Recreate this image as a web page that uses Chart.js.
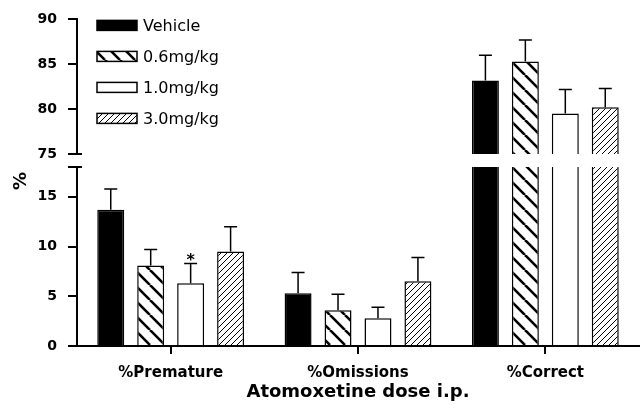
<!DOCTYPE html>
<html>
<head>
<meta charset="utf-8">
<script src="https://cdn.jsdelivr.net/npm/chart.js@4/dist/chart.umd.min.js"></script>
<style>
  html, body { margin: 0; padding: 0; background: #fff; }
  #wrap { position: relative; width: 640px; height: 412px; }
  #wrap canvas { position: absolute; left: 0; top: 0; }
</style>
</head>
<body>
<div id="wrap">
  <canvas id="lower" width="640" height="412"></canvas>
  <canvas id="upper" width="640" height="412"></canvas>
</div>
<script>
const categories = ['%Premature', '%Omissions', '%Correct'];
const doseLabels = ['Vehicle', '0.6mg/kg', '1.0mg/kg', '3.0mg/kg'];

const vehicle = [13.7, 5.3, 83.2];
const vehicleSem = [2.1, 2.1, 2.8];
const dose06 = [8.1, 3.6, 85.3];
const dose06Sem = [1.6, 1.6, 2.4];
const dose10 = [6.3, 2.8, 79.5];
const dose10Sem = [2.0, 1.1, 2.7];
const dose30 = [9.5, 6.5, 80.2];
const dose30Sem = [2.5, 2.4, 2.1];

const upperTicks = [75, 80, 85, 90];
const lowerTicks = [0, 5, 10, 15];
const lowerMax = 18;

// significant difference marker: series index, category index
const starred = [[2, 0]];

Chart.defaults.font.family = 'DejaVu Sans';
Chart.defaults.color = '#000';

const makeHatch = (size, width, dir) => {
  const c = document.createElement('canvas');
  c.width = size;
  c.height = size;
  const g = c.getContext('2d');
  g.fillStyle = '#fff';
  g.fillRect(0, 0, size, size);
  g.strokeStyle = '#000';
  g.lineWidth = width;
  for (const k of [-size, 0, size]) {
    g.beginPath();
    if (dir === 'back') {
      g.moveTo(k, 0);
      g.lineTo(k + size, size);
    } else {
      g.moveTo(k, size);
      g.lineTo(k + size, 0);
    }
    g.stroke();
  }
  return g.createPattern(c, 'repeat');
};

const fills = ['#000', makeHatch(15, 2.6, 'back'), '#fff', makeHatch(6, 1, 'fwd')];
const series = [vehicle, dose06, dose10, dose30];
const sems = [vehicleSem, dose06Sem, dose10Sem, dose30Sem];

const buildDatasets = (keep) => series.map((values, i) => ({
  label: doseLabels[i],
  data: values.map(v => keep(v) ? v : null),
  sem: sems[i],
  backgroundColor: fills[i],
  borderColor: '#000',
  borderWidth: 1.5,
  borderSkipped: 'start',
  categoryPercentage: 0.853,
  barPercentage: 0.675,
  clip: 0
}));

const errorBars = {
  id: 'errorBars',
  afterDatasetsDraw(chart) {
    const ctx = chart.ctx;
    const y = chart.scales.y;
    ctx.save();
    ctx.strokeStyle = '#000';
    ctx.lineWidth = 1.5;
    chart.data.datasets.forEach((ds, i) => {
      const meta = chart.getDatasetMeta(i);
      meta.data.forEach((bar, j) => {
        const v = ds.data[j];
        if (v == null || v > y.max) return;
        const top = y.getPixelForValue(v + ds.sem[j]);
        ctx.beginPath();
        ctx.moveTo(bar.x, bar.y);
        ctx.lineTo(bar.x, top);
        ctx.moveTo(bar.x - 6.5, top);
        ctx.lineTo(bar.x + 6.5, top);
        ctx.stroke();
        if (starred.some(s => s[0] === i && s[1] === j)) {
          ctx.fillStyle = '#000';
          ctx.font = 'bold 16px "DejaVu Sans"';
          ctx.textAlign = 'center';
          ctx.textBaseline = 'alphabetic';
          ctx.fillText('*', bar.x, top + 2);
        }
      });
    });
    ctx.restore();
  }
};

const breakMark = {
  id: 'breakMark',
  afterDraw(chart, args, opts) {
    const ctx = chart.ctx;
    const area = chart.chartArea;
    const yy = opts.edge === 'bottom' ? area.bottom : area.top;
    ctx.save();
    ctx.strokeStyle = '#000';
    ctx.lineWidth = 2;
    ctx.beginPath();
    ctx.moveTo(area.left - 9, yy);
    ctx.lineTo(area.left + 5, yy);
    ctx.stroke();
    ctx.restore();
  }
};

const boxLegend = {
  id: 'boxLegend',
  afterDraw(chart) {
    const ctx = chart.ctx;
    const area = chart.chartArea;
    ctx.save();
    chart.data.datasets.forEach((ds, i) => {
      const cy = area.top + 6 + i * 31;
      ctx.fillStyle = ds.backgroundColor;
      ctx.fillRect(area.left + 20, cy - 5, 40, 10);
      ctx.strokeStyle = '#000';
      ctx.lineWidth = 1.5;
      ctx.strokeRect(area.left + 20, cy - 5, 40, 10);
      ctx.fillStyle = '#000';
      ctx.font = '16px "DejaVu Sans"';
      ctx.textAlign = 'left';
      ctx.textBaseline = 'middle';
      ctx.fillText(ds.label, area.left + 66, cy + 1);
    });
    ctx.restore();
  }
};

const yTitle = {
  id: 'yTitle',
  afterDraw(chart) {
    const ctx = chart.ctx;
    ctx.save();
    ctx.translate(21, 181);
    ctx.rotate(-Math.PI / 2);
    ctx.fillStyle = '#000';
    ctx.font = 'bold 18px "DejaVu Sans"';
    ctx.textAlign = 'center';
    ctx.textBaseline = 'middle';
    ctx.fillText('%', 0, 0);
    ctx.restore();
  }
};

const yAxis = (min, max, ticks) => ({
  min: min,
  max: max,
  afterFit: (scale) => { scale.width = 77; },
  afterBuildTicks: (scale) => { scale.ticks = ticks.map(v => ({value: v})); },
  grid: { drawOnChartArea: false, drawTicks: true, tickLength: 9, color: '#000', lineWidth: 2 },
  border: { display: true, color: '#000', width: 2 },
  ticks: { padding: 11, font: { size: 14, weight: 'bold' } }
});

new Chart(document.getElementById('lower'), {
  type: 'bar',
  data: { labels: categories, datasets: buildDatasets(() => true) },
  plugins: [errorBars, breakMark, yTitle],
  options: {
    responsive: false,
    animation: false,
    events: [],
    layout: { padding: { top: 167, right: 1, left: 0, bottom: 0 } },
    plugins: { legend: { display: false }, tooltip: { enabled: false }, breakMark: { edge: 'top' } },
    scales: {
      x: {
        afterFit: (scale) => { scale.height = 66; },
        grid: { offset: false, drawOnChartArea: false, drawTicks: true, tickLength: 8, color: '#000', lineWidth: 2 },
        border: { display: true, color: '#000', width: 2 },
        ticks: { padding: 10, font: { size: 15, weight: 'bold' } },
        title: { display: true, text: 'Atomoxetine dose i.p.', font: { size: 18, weight: 'bold' }, padding: { top: 4, bottom: 9 } }
      },
      y: yAxis(0, lowerMax, lowerTicks)
    }
  }
});

new Chart(document.getElementById('upper'), {
  type: 'bar',
  data: { labels: categories, datasets: buildDatasets(v => v >= upperTicks[0]) },
  plugins: [errorBars, breakMark, boxLegend],
  options: {
    responsive: false,
    animation: false,
    events: [],
    layout: { padding: { top: 19, right: 1, left: 0, bottom: 258 } },
    plugins: { legend: { display: false }, tooltip: { enabled: false }, breakMark: { edge: 'bottom' } },
    scales: {
      x: { display: false },
      y: yAxis(upperTicks[0], upperTicks[upperTicks.length - 1], upperTicks)
    }
  }
});
</script>
</body>
</html>
